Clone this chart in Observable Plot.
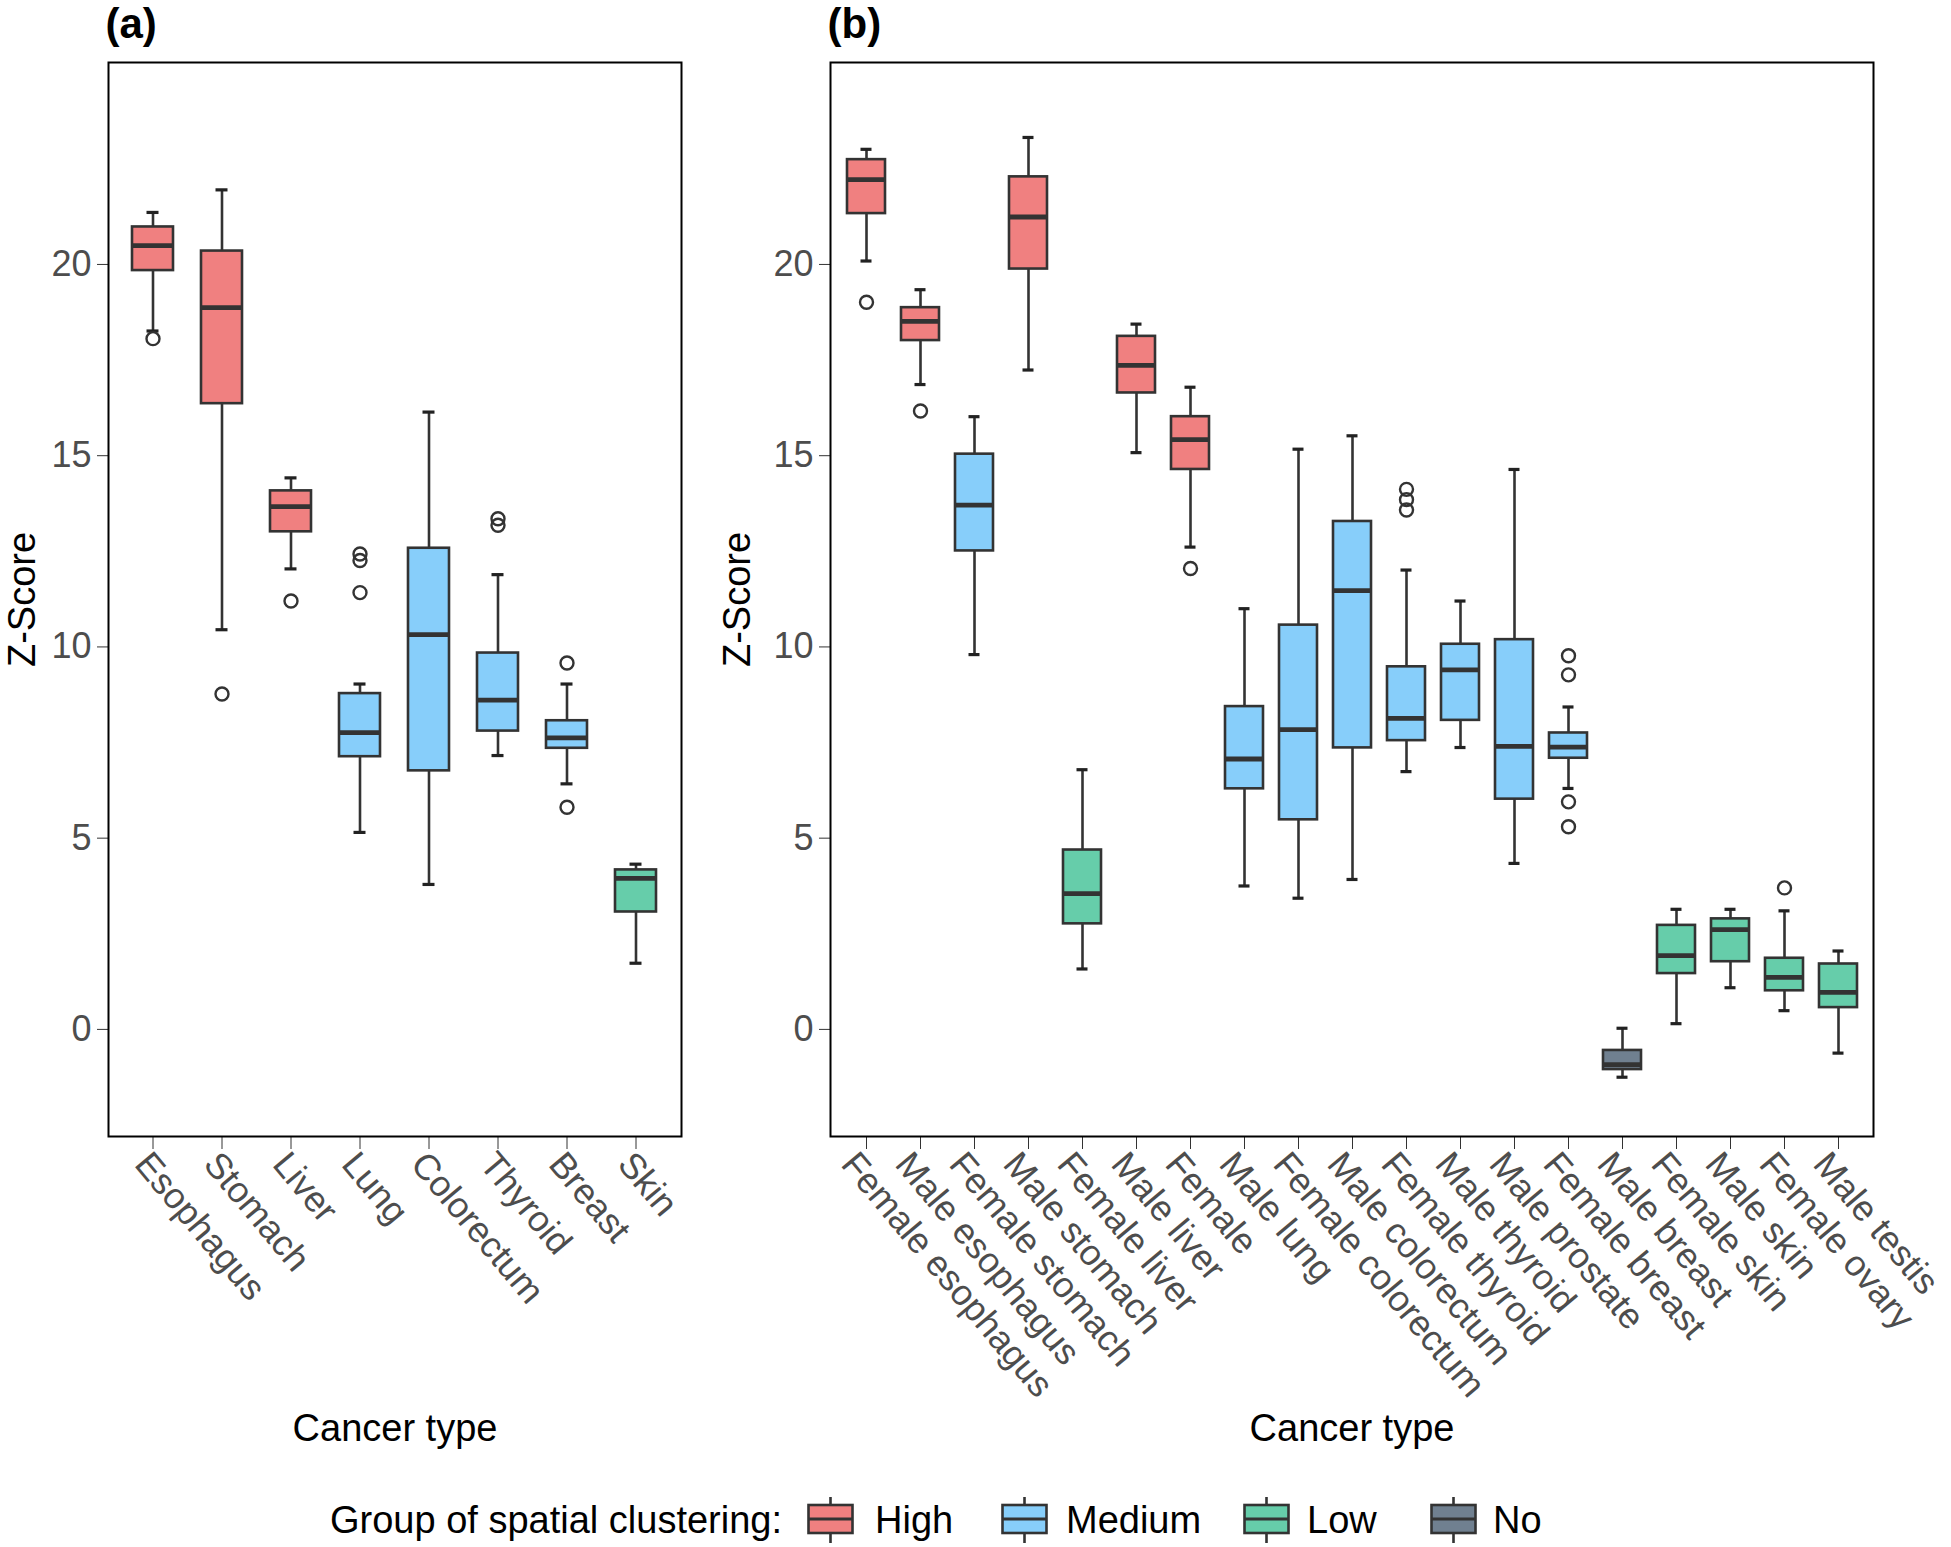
<!DOCTYPE html>
<html>
<head>
<meta charset="utf-8">
<script src="https://cdn.jsdelivr.net/npm/d3@7"></script>
<script src="https://cdn.jsdelivr.net/npm/@observablehq/plot@0.6"></script>
<style>
  body { margin: 0; background: #fff; }
  #root { position: relative; width: 1951px; height: 1547px; background: #fff;
          font-family: "Liberation Sans", Arial, Helvetica, sans-serif; }
  #pa { position: absolute; left: 0; top: 0; }
  #pb { position: absolute; left: 715px; top: 0; }
  .leg { position: absolute; font-size: 38px; line-height: 38px; color: #000; white-space: nowrap; }
  .key { position: absolute; top: 1496px; }
</style>
</head>
<body>
<div id="root">
  <div id="pa"></div>
  <div id="pb"></div>
  <div id="legend"></div>
</div>
<script>
// ---------- data ----------
const groups = ["High", "Medium", "Low", "No"];
const groupColors = ["#F08080", "#87CEFA", "#66CDAA", "#708090"];

// Panel (a)
const catA = ["Esophagus", "Stomach", "Liver", "Lung", "Colorectum", "Thyroid", "Breast", "Skin"];
const grpA = ["High", "High", "High", "Medium", "Medium", "Medium", "Medium", "Low"];
const loA  = [18.26, 10.45, 12.04, 5.15, 3.79, 7.16, 6.42, 1.73];
const q1A  = [19.84, 16.36, 13.01, 7.13, 6.76, 7.80, 7.35, 3.07];
const medA = [20.49, 18.87, 13.67, 7.76, 10.32, 8.61, 7.62, 3.95];
const q3A  = [20.98, 20.35, 14.08, 8.78, 12.58, 9.84, 8.07, 4.17];
const hiA  = [21.36, 21.95, 14.42, 9.03, 16.14, 11.89, 9.03, 4.32];
const outCatA = ["Esophagus", "Stomach", "Liver", "Lung", "Lung", "Lung", "Thyroid", "Thyroid", "Breast", "Breast"];
const outValA = [18.06, 8.77, 11.20, 12.43, 12.26, 11.42, 13.35, 13.18, 9.58, 5.81];

// Panel (b)
const catB = ["Female esophagus", "Male esophagus", "Female stomach", "Male stomach", "Female liver",
              "Male liver", "Female", "Male lung", "Female colorectum", "Male colorectum",
              "Female thyroid", "Male thyroid", "Male prostate", "Female breast", "Male breast",
              "Female skin", "Male skin", "Female ovary", "Male testis"];
const grpB = ["High", "High", "Medium", "High", "Low", "High", "High", "Medium", "Medium", "Medium",
              "Medium", "Medium", "Medium", "Medium", "No", "Low", "Low", "Low", "Low"];
const loB  = [20.09, 16.86, 9.80, 17.24, 1.58, 15.08, 12.61, 3.75, 3.43, 3.92, 6.74, 7.37, 4.34, 6.30, -1.25, 0.15, 1.09, 0.49, -0.62];
const q1B  = [21.33, 18.01, 12.51, 19.88, 2.76, 16.64, 14.64, 6.29, 5.48, 7.36, 7.55, 8.08, 6.02, 7.09, -1.05, 1.46, 1.77, 1.01, 0.57];
const medB = [22.22, 18.51, 13.71, 21.24, 3.55, 17.36, 15.42, 7.07, 7.84, 11.47, 8.13, 9.40, 7.40, 7.38, -0.92, 1.93, 2.61, 1.36, 0.97];
const q3B  = [22.74, 18.87, 15.04, 22.29, 4.69, 18.12, 16.02, 8.44, 10.57, 13.28, 9.48, 10.07, 10.19, 7.75, -0.55, 2.72, 2.89, 1.86, 1.71];
const hiB  = [23.01, 19.34, 16.02, 23.32, 6.79, 18.44, 16.79, 11.00, 15.17, 15.52, 12.01, 11.20, 14.64, 8.43, 0.03, 3.14, 3.14, 3.10, 2.05];
const outCatB = ["Female esophagus", "Male esophagus", "Female", "Female thyroid", "Female thyroid", "Female thyroid",
                 "Female breast", "Female breast", "Female breast", "Female breast", "Female ovary"];
const outValB = [19.01, 16.17, 12.05, 14.12, 13.85, 13.58, 9.77, 9.27, 5.95, 5.30, 3.70];

const yTicks = [0, 5, 10, 15, 20];
const yDomain = [-2.8, 25.28];
const xTitle = "Cancer type";
const yTitle = "Z-Score";
const legendTitle = "Group of spatial clustering:";

// ---------- drawing ----------
const FONT = '"Liberation Sans", Arial, Helvetica, sans-serif';
const LINE = "#333333";

function panel(cfg) {
  const boxes = cfg.cats.map((c, i) => ({
    cat: c, group: cfg.grp[i], lo: cfg.lo[i], q1: cfg.q1[i], med: cfg.med[i], q3: cfg.q3[i], hi: cfg.hi[i]
  }));
  const outs = cfg.outCat.map((c, i) => ({cat: c, value: cfg.outVal[i]}));
  return Plot.plot({
    width: cfg.width,
    height: 1460,
    marginLeft: cfg.marginLeft,
    marginRight: cfg.marginRight,
    marginTop: 62,
    marginBottom: 324,
    style: {fontFamily: FONT, fontSize: "36px", background: "white", overflow: "visible"},
    x: {type: "band", domain: cfg.cats, paddingInner: cfg.pi, paddingOuter: cfg.po, label: null},
    y: {domain: yDomain, label: null},
    color: {domain: groups, range: groupColors},
    marks: [
      Plot.ruleX(boxes, {x: "cat", y1: "lo", y2: "q1", stroke: LINE, strokeWidth: 2.6}),
      Plot.ruleX(boxes, {x: "cat", y1: "q3", y2: "hi", stroke: LINE, strokeWidth: 2.6}),
      Plot.tickY(boxes, {x: "cat", y: "lo", stroke: "#222", strokeWidth: 3.2, insetLeft: cfg.capInset, insetRight: cfg.capInset}),
      Plot.tickY(boxes, {x: "cat", y: "hi", stroke: "#222", strokeWidth: 3.2, insetLeft: cfg.capInset, insetRight: cfg.capInset}),
      Plot.barY(boxes, {x: "cat", y1: "q1", y2: "q3", fill: "group", stroke: LINE, strokeWidth: 2.6}),
      Plot.tickY(boxes, {x: "cat", y: "med", stroke: LINE, strokeWidth: 4.8}),
      Plot.dot(outs, {x: "cat", y: "value", r: 6.5, stroke: LINE, strokeWidth: 2.4, fill: "none"}),
      Plot.axisY({ticks: yTicks, tickSize: 11, tickPadding: 6, stroke: LINE, fill: "#4d4d4d", label: null}),
      // x tick marks (no text)
      Plot.axisX({tickSize: 13, stroke: LINE, fill: "none", label: null}),
      // x tick labels (no tick marks), rotated
      Plot.axisX({tickRotate: 50, tickSize: 13, tickPadding: 8, dx: cfg.labelDx, stroke: "none", fill: "#4d4d4d", label: null}),
      Plot.frame({stroke: "black", strokeWidth: 2}),
      Plot.text([yTitle], {frameAnchor: "left", rotate: -90, dx: -cfg.marginLeft + 8, lineAnchor: "top",
                           textAnchor: "middle", fontSize: 38, fill: "black"}),
      Plot.text([xTitle], {frameAnchor: "bottom", dy: 304, lineAnchor: "bottom", textAnchor: "middle",
                           fontSize: 38, fill: "black"}),
      Plot.text([cfg.tag], {frameAnchor: "top-left", dx: -3, dy: -25, lineAnchor: "bottom", textAnchor: "start",
                            fontSize: 42, fontWeight: "bold", fill: "black"})
    ]
  });
}

document.getElementById("pa").append(panel({
  cats: catA, grp: grpA, lo: loA, q1: q1A, med: medA, q3: q3A, hi: hiA, outCat: outCatA, outVal: outValA,
  width: 705, marginLeft: 108, marginRight: 24, pi: 0.4, po: 0.3, capInset: 14.5, labelDx: -11, tag: "(a)"
}));
document.getElementById("pb").append(panel({
  cats: catB, grp: grpB, lo: loB, q1: q1B, med: medB, q3: q3B, hi: hiB, outCat: outCatB, outVal: outValB,
  width: 1236, marginLeft: 115, marginRight: 78, pi: 0.3, po: 0.25, capInset: 13.5, labelDx: -18, tag: "(b)"
}));

// ---------- legend ----------
const colorScale = Plot.scale({color: {domain: groups, range: groupColors}});
const legend = document.getElementById("legend");
const legTitle = document.createElement("div");
legTitle.className = "leg";
legTitle.style.left = "330px";
legTitle.style.top = "1501px";
legTitle.textContent = legendTitle;
legend.append(legTitle);
const keyLeft = [808, 1002, 1244, 1431];
const textLeft = [875, 1066, 1307, 1493];
groups.forEach((g, i) => {
  const ns = "http://www.w3.org/2000/svg";
  const svg = document.createElementNS(ns, "svg");
  svg.setAttribute("width", 48);
  svg.setAttribute("height", 48);
  svg.setAttribute("class", "key");
  svg.style.left = (keyLeft[i] - 1) + "px";
  const mk = (tag, attrs) => { const e = document.createElementNS(ns, tag); for (const k in attrs) e.setAttribute(k, attrs[k]); svg.append(e); };
  mk("line", {x1: 23.5, x2: 23.5, y1: 1, y2: 47, stroke: LINE, "stroke-width": 2.6});
  mk("rect", {x: 1.5, y: 9, width: 44, height: 28, fill: colorScale.apply(g), stroke: LINE, "stroke-width": 2.6});
  mk("line", {x1: 1.5, x2: 45.5, y1: 23, y2: 23, stroke: LINE, "stroke-width": 2.8});
  legend.append(svg);
  const t = document.createElement("div");
  t.className = "leg";
  t.style.left = textLeft[i] + "px";
  t.style.top = "1501px";
  t.textContent = g;
  legend.append(t);
});
</script>
</body>
</html>
